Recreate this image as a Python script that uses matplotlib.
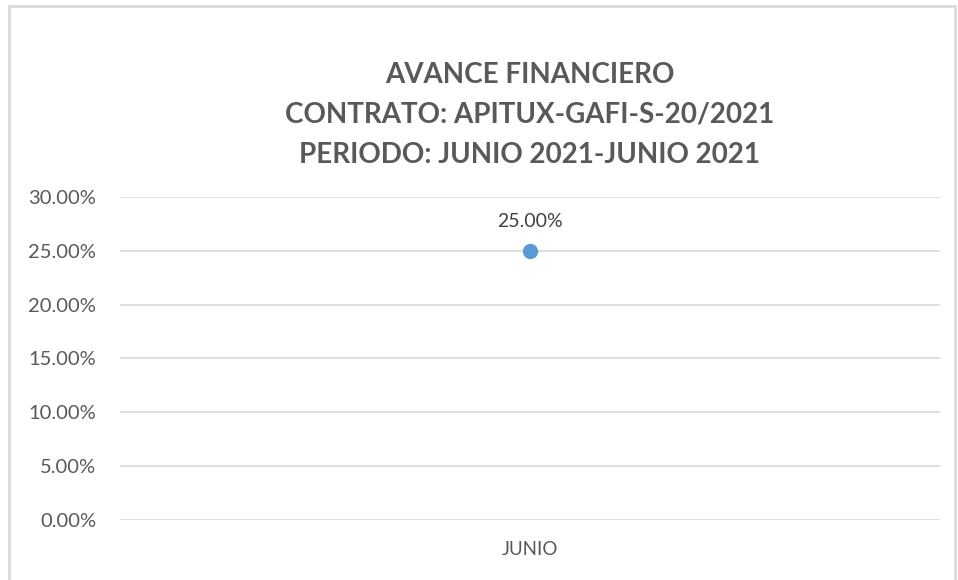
import matplotlib
matplotlib.use('Agg')
import matplotlib.pyplot as plt
from matplotlib.patches import Rectangle
from matplotlib.ticker import FuncFormatter

plt.rcParams['font.family'] = ['Lato', 'DejaVu Sans']

# datos
categorias = ['JUNIO']
avance = [0.25]
titulo = ['AVANCE FINANCIERO', 'CONTRATO: APITUX-GAFI-S-20/2021', 'PERIODO: JUNIO 2021-JUNIO 2021']

fig = plt.figure(figsize=(9.58, 5.8), dpi=100, facecolor='w')
ax = fig.add_axes([0.125, 0.1034, 0.856, 0.5570])

x = list(range(len(categorias)))
ax.plot(x, avance, 'o', color='#5b9bd5', markersize=10, zorder=3)
for xi, v in zip(x, avance):
    ax.annotate('%.2f%%' % (v * 100), (xi, v), xytext=(0, 15), textcoords='offset points',
                ha='center', va='bottom', fontsize=14, color='#404040')

ax.set_xlim(-0.5, len(categorias) - 0.5)
ax.set_ylim(0, 0.30)
ax.set_yticks([0, 0.05, 0.10, 0.15, 0.20, 0.25, 0.30])
ax.yaxis.set_major_formatter(FuncFormatter(lambda v, p: '%.2f%%' % (v * 100)))
ax.set_xticks(x)
ax.set_xticklabels(categorias)
ax.tick_params(axis='y', length=0, pad=17, labelsize=14.5, labelcolor='#595959')
ax.tick_params(axis='x', length=0, pad=15, labelsize=13.5, labelcolor='#595959')
ax.grid(axis='y', color='#d9d9d9', linewidth=1.2)
ax.set_axisbelow(True)
for s in ax.spines.values():
    s.set_visible(False)

# titulo
for i, t in enumerate(titulo):
    fig.text(0.553, 1 - (75 + 40 * i) / 580, t, ha='center', va='center',
             fontsize=20, fontweight='bold', color='#595959')

# borde del grafico
fig.patches.append(Rectangle((9 / 958, -0.01), 946 / 958, 1 - 6 / 580 + 0.01,
                             transform=fig.transFigure, fill=False,
                             edgecolor='#d9d9d9', linewidth=2))

fig.savefig('out.png', dpi=100)
